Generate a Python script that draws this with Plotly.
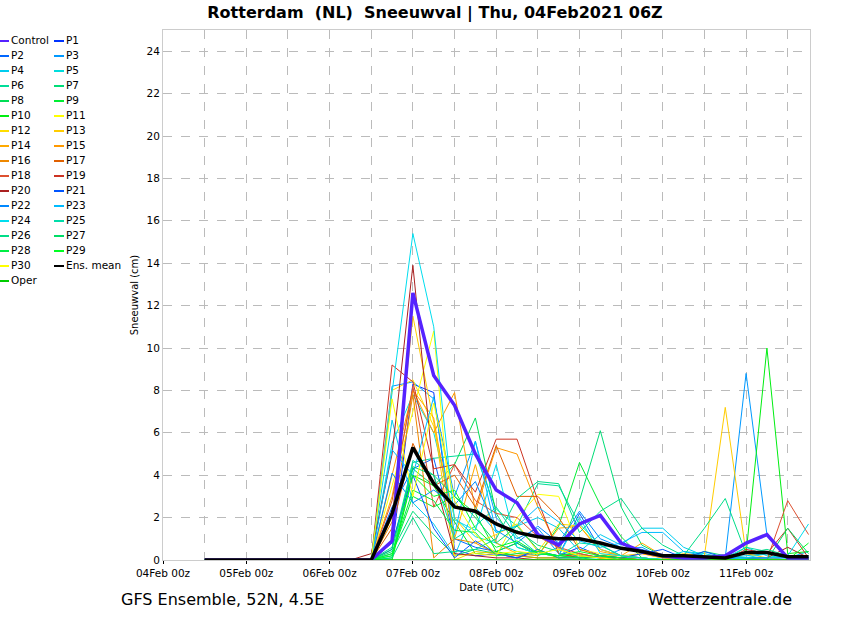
import pandas as pd
import plotly.graph_objects as go

# 6-hourly steps, 04Feb2021 12Z .. 11Feb2021 18Z
times = pd.date_range("2021-02-04 12:00", periods=30, freq="6h")

names = ["Control"] + [f"P{i}" for i in range(1, 31)] + ["Oper", "Ens. mean"]

colors = {
    "Control": "#5522ff", "P1": "#0033ff", "P2": "#0066ff", "P3": "#0099ff",
    "P4": "#00ccee", "P5": "#00dddd", "P6": "#00dd99", "P7": "#00dd77",
    "P8": "#00dd55", "P9": "#00ee33", "P10": "#00ee11", "P11": "#ffff00",
    "P12": "#ffdd00", "P13": "#ffcc00", "P14": "#ffaa00", "P15": "#ff9900",
    "P16": "#ee8800", "P17": "#e06000", "P18": "#dd5030", "P19": "#cc3322",
    "P20": "#aa2020", "P21": "#0055ff", "P22": "#0088ff", "P23": "#00bbff",
    "P24": "#00ddee", "P25": "#00ddaa", "P26": "#00dd88", "P27": "#00dd66",
    "P28": "#00ee44", "P29": "#00ff22", "P30": "#ffff00",
    "Oper": "#00cc00", "Ens. mean": "#000000",
}

# snowfall (cm) per member
control = [0, 0, 0, 0, 0, 0, 0, 0, 0, 0.9, 12.6, 8.7, 7.3, 5.0, 3.3, 2.7, 1.2, 0.7, 1.7, 2.1, 0.8, 0.4, 0.2, 0.1, 0.1, 0.2, 0.8, 1.2, 0.1, 0.1]
p1 = [0, 0, 0, 0, 0, 0, 0, 0, 0, 0.5, 8.3, 7.9, 0.5, 0.2, 0.3, 0.1, 0.4, 0.2, 0.6, 0.2, 0.1, 0.1, 0, 0, 0, 0, 0.1, 0.1, 0, 0]
p2 = [0, 0, 0, 0, 0, 0, 0, 0, 0, 2.5, 4.3, 4.8, 1.0, 0.6, 0.4, 0.8, 0.3, 0.2, 2.2, 0.5, 0.2, 0.1, 0, 0, 0, 0, 0, 0, 0, 0]
p3 = [0, 0, 0, 0, 0, 0, 0, 0, 0, 8.2, 8.4, 7.6, 3.0, 5.6, 2.0, 1.0, 1.5, 0.3, 0.2, 0.1, 0.5, 0.6, 0.1, 0, 0, 0.1, 8.8, 1.2, 0.1, 0]
p4 = [0, 0, 0, 0, 0, 0, 0, 0, 0, 6.6, 2.7, 1.7, 0.2, 2.5, 1.3, 1.6, 2.0, 1.5, 0.4, 1.2, 0.7, 1.5, 1.5, 0.6, 0.2, 0.1, 0.2, 0.3, 0.1, 0.4]
p5 = [0, 0, 0, 0, 0, 0, 0, 0, 0, 5.5, 7.8, 6.0, 2.0, 1.1, 0.8, 0.4, 0.2, 0.6, 0.1, 0.1, 0, 0, 0.1, 0.4, 0.3, 0.1, 0.6, 0.2, 0.1, 0.1]
p6 = [0, 0, 0, 0, 0, 0, 0, 0, 0, 0.6, 4.6, 4.8, 4.9, 5.0, 2.4, 1.6, 3.6, 3.5, 1.7, 0.7, 0.2, 0.1, 0, 0.1, 0.1, 0, 0.1, 0, 0, 0]
p7 = [0, 0, 0, 0, 0, 0, 0, 0, 0, 0.4, 2.3, 1.2, 0.2, 0.5, 0.3, 1.4, 0.7, 0.4, 2.8, 6.1, 2.5, 0.7, 0.2, 0.1, 0.4, 0.2, 0.1, 0, 0, 0]
p8 = [0, 0, 0, 0, 0, 0, 0, 0, 0, 0.1, 4.3, 3.5, 4.5, 6.7, 2.2, 0.6, 0.3, 0.2, 0.3, 0.1, 0.1, 0, 0, 0, 0, 0, 0, 0, 0, 0.2]
p9 = [0, 0, 0, 0, 0, 0, 0, 0, 0, 0.3, 3.0, 2.5, 3.0, 2.2, 0.4, 0.8, 0.2, 1.6, 4.6, 2.6, 1.1, 0.1, 0, 0, 0, 0, 0, 0, 0, 0]
p10 = [0, 0, 0, 0, 0, 0, 0, 0, 0, 0, 4.0, 3.5, 1.8, 0.3, 0.4, 0.2, 0.1, 0.1, 0.2, 0.1, 0, 0, 0, 0, 0.1, 0.2, 0.3, 10.0, 0.3, 0.4]
p11 = [0, 0, 0, 0, 0, 0, 0, 0, 0, 3.5, 7.0, 10.8, 0.2, 0.3, 0.2, 2.0, 3.1, 3.0, 0.5, 0.3, 0.1, 0, 0, 0, 0, 0, 0, 0, 0, 0]
p12 = [0, 0, 0, 0, 0, 0, 0, 0, 0, 8.0, 8.5, 6.3, 2.0, 0.8, 1.2, 1.7, 0.4, 1.7, 1.6, 0.5, 0.2, 0.1, 0, 0.1, 0, 0, 0, 0, 0, 0]
p13 = [0, 0, 0, 0, 0, 0, 0, 0, 0, 2.0, 11.5, 6.5, 0, 0.4, 0.3, 0.2, 0.4, 0.1, 0.1, 0.2, 0.2, 0.3, 0.1, 0.3, 0.2, 7.2, 0.3, 0.1, 0, 0]
p14 = [0, 0, 0, 0, 0, 0, 0, 0, 0, 3.0, 8.0, 6.7, 1.0, 4.5, 0.8, 0.3, 0.2, 1.5, 1.6, 0.4, 0.2, 0.8, 0.2, 0.1, 0, 0, 0, 0, 0, 0]
p15 = [0, 0, 0, 0, 0, 0, 0, 0, 0, 4.0, 8.0, 6.0, 7.9, 2.3, 5.3, 5.0, 2.5, 0.5, 0.2, 0.1, 0.1, 0.3, 0.1, 0, 0, 0, 0, 0, 0, 0]
p16 = [0, 0, 0, 0, 0, 0, 0, 0, 0, 1.8, 7.8, 0.1, 1.0, 0.8, 0.3, 0.2, 0.1, 0.1, 0.3, 0.1, 0, 0, 0, 0, 0, 0, 0, 0, 0, 0]
p17 = [0, 0, 0, 0, 0, 0, 0, 0, 0, 1.5, 5.5, 3.5, 4.0, 2.5, 5.4, 3.0, 3.0, 2.0, 0.5, 0.2, 0.1, 0, 0, 0, 0, 0, 0, 0, 0, 0]
p18 = [0, 0, 0, 0, 0, 0, 0, 0, 0, 2.8, 8.2, 2.5, 4.5, 2.8, 2.2, 2.0, 1.1, 0.6, 0.3, 0.1, 0, 0, 0, 0, 0, 0, 0, 0, 2.8, 1.2]
p19 = [0, 0, 0, 0, 0, 0, 0, 0, 0, 9.2, 8.4, 4.3, 4.5, 3.2, 5.7, 5.7, 2.8, 0.3, 0.1, 0.2, 0.1, 0, 0, 0, 0, 0, 0.5, 0.3, 1.5, 0.1]
p20 = [0, 0, 0, 0, 0, 0, 0, 0, 0.3, 5.0, 13.9, 4.0, 0.3, 0.2, 0.1, 0.1, 0, 0, 0, 0, 0, 0, 0, 0, 0, 0, 0.1, 0.1, 0.6, 0.1]
p21 = [0, 0, 0, 0, 0, 0, 0, 0, 0, 0.8, 4.0, 1.5, 0.1, 0.9, 0.3, 0.1, 0.5, 0.1, 0.1, 0.2, 0.1, 0.3, 0.5, 0.1, 0.4, 0.1, 0, 0, 0, 0]
p22 = [0, 0, 0, 0, 0, 0, 0, 0, 0, 4.1, 2.7, 3.3, 2.6, 3.7, 1.4, 0.8, 1.6, 0.8, 2.3, 1.0, 0.6, 0.5, 0.2, 0.1, 0.1, 0.1, 0.1, 0.1, 0.1, 0.1]
p23 = [0, 0, 0, 0, 0, 0, 0, 0, 0, 5.2, 4.0, 7.7, 1.2, 5.6, 1.3, 1.6, 2.5, 1.8, 0.9, 0.6, 0.8, 1.3, 1.3, 0.4, 0.2, 0.1, 0.1, 0.1, 0.1, 0.1]
p24 = [0, 0, 0, 0, 0, 0, 0, 0, 0, 7.9, 15.4, 11.0, 1.9, 1.4, 4.5, 0.6, 0.3, 0.2, 2.0, 0.3, 0.2, 0.1, 0, 0, 0, 0, 0.1, 0.3, 0.2, 1.7]
p25 = [0, 0, 0, 0, 0, 0, 0, 0, 0, 0.2, 4.7, 4.0, 1.0, 1.6, 2.5, 1.1, 0.3, 0.2, 0.8, 0.7, 0.2, 0.1, 0, 0.1, 0.1, 0, 0.6, 0.4, 0.1, 0.1]
p26 = [0, 0, 0, 0, 0, 0, 0, 0, 0, 0.1, 2.0, 0.3, 0.4, 0.5, 1.0, 2.9, 3.7, 3.6, 1.3, 2.3, 2.9, 1.5, 0.7, 0.2, 1.5, 2.9, 0.3, 0.5, 0.2, 0.1]
p27 = [0, 0, 0, 0, 0, 0, 0, 0, 0, 0.5, 4.4, 4.0, 3.0, 2.0, 0.8, 1.6, 0.5, 0.1, 0.1, 0.2, 0, 0, 0, 0, 0, 0, 0, 0, 1.5, 0.3]
p28 = [0, 0, 0, 0, 0, 0, 0, 0, 0, 0.3, 3.3, 2.8, 1.4, 1.3, 0.2, 0.3, 0.4, 0.2, 0.1, 0, 0, 0, 0, 0, 0, 0, 0, 0, 0, 0]
p29 = [0, 0, 0, 0, 0, 0, 0, 0, 0, 0.2, 4.0, 3.0, 3.3, 1.5, 0.6, 0.9, 0.3, 0.2, 0.4, 0.2, 0.1, 0, 0, 0, 0, 0, 0, 0, 0, 0.8]
p30 = [0, 0, 0, 0, 0, 0, 0, 0, 0, 7.6, 3.0, 7.4, 2.8, 1.2, 0.3, 0.4, 0.3, 0.5, 0.2, 0.1, 0, 0, 0, 0, 0, 0, 0, 0, 0, 0]
oper = [0] * 30
ens_mean = [0, 0, 0, 0, 0, 0, 0, 0, 0, 2.2, 5.3, 3.6, 2.5, 2.3, 1.7, 1.3, 1.1, 1.0, 1.0, 0.8, 0.55, 0.4, 0.2, 0.2, 0.15, 0.1, 0.35, 0.35, 0.15, 0.15]

members = [p1, p2, p3, p4, p5, p6, p7, p8, p9, p10, p11, p12, p13, p14, p15,
           p16, p17, p18, p19, p20, p21, p22, p23, p24, p25, p26, p27, p28, p29, p30]

fig = go.Figure()
for i, m in enumerate(members):
    nm = f"P{i + 1}"
    fig.add_trace(go.Scatter(x=times, y=m, mode="lines", name=nm,
                             line=dict(color=colors[nm], width=1)))
fig.add_trace(go.Scatter(x=times, y=oper, mode="lines", name="Oper",
                         line=dict(color=colors["Oper"], width=1.5)))
fig.add_trace(go.Scatter(x=times, y=control, mode="lines", name="Control",
                         line=dict(color=colors["Control"], width=3.5)))
fig.add_trace(go.Scatter(x=times, y=ens_mean, mode="lines", name="Ens. mean",
                         line=dict(color=colors["Ens. mean"], width=3.5)))

# plot area in screen pixels (body margin is removed below)
W, H = 850, 620
L, R, T, B = 163, 810, 30, 560
def px(x): return (x - L) / (R - L)
def py(y): return (B - y) / (B - T)

# hand-drawn two column legend like the original
shapes, annos = [], []
rows = [(names[0], names[1])] + [(f"P{i}", f"P{i+1}") for i in range(2, 30, 2)] + [("P30", "Ens. mean"), ("Oper", None)]
for r, (a, b) in enumerate(rows):
    yy = 40 + 15 * r
    for nm, x0, x1 in ((a, 0, 9), (b, 54, 64)):
        if nm is None:
            continue
        shapes.append(dict(type="line", xref="paper", yref="paper",
                           x0=px(x0), x1=px(x1), y0=py(yy + 1), y1=py(yy + 1),
                           line=dict(color=colors[nm], width=2)))
        annos.append(dict(text=nm, xref="paper", yref="paper", x=px(x1), y=py(yy),
                          xanchor="left", yanchor="middle", showarrow=False,
                          font=dict(size=10.5, color="#000")))

annos.append(dict(text="GFS Ensemble, 52N, 4.5E", xref="paper", yref="paper",
                  x=px(119), y=py(599), xanchor="left", yanchor="middle",
                  showarrow=False, font=dict(size=16, color="#000")))
annos.append(dict(text="Wetterzentrale.de", xref="paper", yref="paper",
                  x=px(794), y=py(599), xanchor="right", yanchor="middle",
                  showarrow=False, font=dict(size=16, color="#000")))

fig.update_layout(
    width=W, height=H,
    margin=dict(l=L, r=W - R, t=T, b=H - B),
    paper_bgcolor="white", plot_bgcolor="white",
    font=dict(family="DejaVu Sans", size=11, color="#000"),
    showlegend=False,
    title=dict(text="<b>Rotterdam  (NL)  Sneeuwval | Thu, 04Feb2021 06Z</b>",
               x=435 / W, xanchor="center", y=1 - 12 / H, yanchor="middle",
               font=dict(size=16)),
    shapes=shapes, annotations=annos,
)
fig.update_xaxes(
    range=["2021-02-04 00:00", "2021-02-11 18:25"],
    dtick=86400000, tick0="2021-02-04", tickformat="%d%b %Hz",
    ticks="outside", ticklen=3, tickcolor="#000",
    showgrid=True, gridcolor="#bbbbbb", griddash="dash", gridwidth=1,
    minor=dict(dtick=43200000, showgrid=True, gridcolor="#bbbbbb", griddash="dash"),
    showline=True, linecolor="#cccccc", mirror=True, zeroline=False,
    title=dict(text="Date (UTC)", font=dict(size=10), standoff=6),
    tickfont=dict(size=10.5),
)
fig.update_yaxes(
    range=[0, 25], dtick=2, tick0=0,
    showgrid=True, gridcolor="#bbbbbb", griddash="dash", gridwidth=1,
    showline=True, linecolor="#cccccc", mirror=True, zeroline=False,
    title=dict(text="Sneeuwval (cm)", font=dict(size=10), standoff=6),
    tickfont=dict(size=10.5),
)

fig.write_html("out.html", config={"displayModeBar": False},
               post_script="document.body.style.margin='0';")
